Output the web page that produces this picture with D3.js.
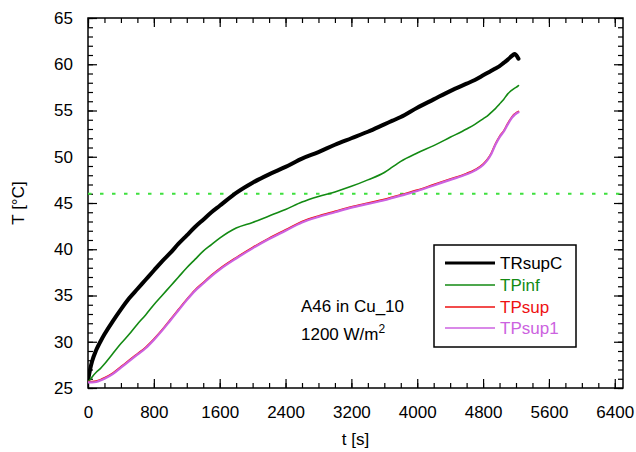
<!DOCTYPE html>
<html>
<head>
<meta charset="utf-8">
<script src="https://cdn.jsdelivr.net/npm/d3@7"></script>
<style>
  body { margin: 0; background: #fff; }
  svg { display: block; }
  text { font-family: "Liberation Sans", Arial, Helvetica, sans-serif; }
</style>
</head>
<body>
<svg id="chart" width="636" height="452"></svg>
<script>
// Time grid [s] shared by all four temperature traces
const time = [0, 25, 50, 100, 150, 200, 300, 400, 500, 600, 700, 800, 900, 1000, 1100, 1200,
  1300, 1400, 1500, 1600, 1800, 2000, 2200, 2400, 2600, 2800, 3000, 3200, 3400, 3600, 3700,
  3800, 4000, 4200, 4400, 4600, 4700, 4800, 4850, 4900, 4950, 5000, 5050, 5100, 5150, 5180,
  5200, 5230];

// Temperatures [°C]
const TRsupC = [25.8, 27.0, 27.9, 29.1, 30.0, 30.8, 32.2, 33.5, 34.7, 35.7, 36.7, 37.7, 38.7,
  39.6, 40.6, 41.5, 42.4, 43.2, 44.0, 44.7, 46.1, 47.2, 48.1, 48.9, 49.8, 50.5, 51.3, 52.0,
  52.7, 53.5, 53.9, 54.3, 55.3, 56.2, 57.1, 57.9, 58.3, 58.8, 59.05, 59.3, 59.55, 59.8, 60.15,
  60.5, 60.9, 61.1, 61.0, 60.6];

const TPinf = [25.7, 25.9, 26.2, 26.7, 27.1, 27.6, 28.7, 29.8, 30.8, 31.9, 32.9, 34.0, 35.0,
  36.0, 37.0, 38.0, 38.9, 39.8, 40.5, 41.2, 42.3, 42.9, 43.6, 44.3, 45.1, 45.7, 46.2, 46.8,
  47.5, 48.3, 48.9, 49.5, 50.4, 51.2, 52.1, 53.0, 53.5, 54.1, 54.4, 54.8, 55.2, 55.7, 56.2,
  56.8, 57.2, 57.4, 57.5, 57.7];

const TPsup = [25.7, 25.7, 25.7, 25.75, 25.9, 26.1, 26.6, 27.3, 28.0, 28.7, 29.4, 30.3, 31.3,
  32.4, 33.5, 34.6, 35.6, 36.4, 37.2, 37.9, 39.1, 40.2, 41.2, 42.1, 43.0, 43.6, 44.1, 44.6,
  45.0, 45.4, 45.65, 45.9, 46.4, 47.0, 47.6, 48.2, 48.6, 49.2, 49.7, 50.4, 51.4, 52.2, 52.8,
  53.6, 54.3, 54.6, 54.75, 54.9];

const TPsup1 = [25.6, 25.6, 25.6, 25.65, 25.8, 26.0, 26.5, 27.2, 27.9, 28.6, 29.3, 30.2, 31.2,
  32.3, 33.4, 34.5, 35.5, 36.3, 37.1, 37.8, 39.0, 40.1, 41.1, 42.0, 42.9, 43.5, 44.0, 44.5,
  44.9, 45.3, 45.55, 45.8, 46.3, 46.9, 47.5, 48.1, 48.5, 49.1, 49.6, 50.3, 51.3, 52.1, 52.7,
  53.5, 54.2, 54.5, 54.65, 54.8];

// Axis ticks
const xTicks = [0, 800, 1600, 2400, 3200, 4000, 4800, 5600, 6400];
const xMinorTicks = d3.range(0, 6401, 200);
const yTicks = [25, 30, 35, 40, 45, 50, 55, 60, 65];
const yMinorTicks = d3.range(25, 66, 1);

// Reference temperature level (dashed)
const refLevel = 46;

const seriesNames = ["TRsupC", "TPinf", "TPsup", "TPsup1"];
const seriesValues = [TRsupC, TPinf, TPsup, TPsup1];
const seriesColors = ["#000000", "#138a13", "#ee1111", "#cc62e0"];
const seriesWidths = [4, 1.6, 1.6, 2.2];
const legendWidths = [3.2, 1.4, 1.4, 1.4];

const noteLine1 = "A46 in Cu_10";
const noteLine2 = "1200 W/m";

const svg = d3.select("#chart");
const plot = { left: 88, right: 623, top: 18, bottom: 388 };

const x = d3.scaleLinear().domain([0, 6500]).range([plot.left, plot.right]);
const y = d3.scaleLinear().domain([25, 65]).range([plot.bottom, plot.top]);

const FONT = 17;

// clip region for the traces
svg.append("defs").append("clipPath").attr("id", "plotClip")
  .append("rect")
  .attr("x", plot.left).attr("y", plot.top)
  .attr("width", plot.right - plot.left).attr("height", plot.bottom - plot.top);

// ---- axes: inward ticks on all four sides ----
function styleAxis(g) {
  g.select(".domain").remove();
  g.selectAll(".tick line").attr("stroke", "#000").attr("stroke-width", 1.2);
  g.selectAll(".tick text").attr("font-size", FONT).attr("fill", "#000");
}

// bottom
svg.append("g").attr("transform", `translate(0,${plot.bottom})`)
  .call(d3.axisBottom(x).tickValues(xMinorTicks).tickFormat("").tickSize(-5))
  .call(styleAxis);
svg.append("g").attr("transform", `translate(0,${plot.bottom})`)
  .call(d3.axisBottom(x).tickValues(xTicks).tickFormat(d3.format("d")).tickSize(-9).tickPadding(17.5))
  .call(styleAxis);
// top
svg.append("g").attr("transform", `translate(0,${plot.top})`)
  .call(d3.axisTop(x).tickValues(xMinorTicks).tickFormat("").tickSize(-5))
  .call(styleAxis);
svg.append("g").attr("transform", `translate(0,${plot.top})`)
  .call(d3.axisTop(x).tickValues(xTicks).tickFormat("").tickSize(-9))
  .call(styleAxis);
// left
svg.append("g").attr("transform", `translate(${plot.left},0)`)
  .call(d3.axisLeft(y).tickValues(yMinorTicks).tickFormat("").tickSize(-5))
  .call(styleAxis);
svg.append("g").attr("transform", `translate(${plot.left},0)`)
  .call(d3.axisLeft(y).tickValues(yTicks).tickFormat(d3.format("d")).tickSize(-9).tickPadding(15))
  .call(styleAxis);
// right
svg.append("g").attr("transform", `translate(${plot.right},0)`)
  .call(d3.axisRight(y).tickValues(yMinorTicks).tickFormat("").tickSize(-5))
  .call(styleAxis);
svg.append("g").attr("transform", `translate(${plot.right},0)`)
  .call(d3.axisRight(y).tickValues(yTicks).tickFormat("").tickSize(-9))
  .call(styleAxis);

// frame
svg.append("rect")
  .attr("x", plot.left).attr("y", plot.top)
  .attr("width", plot.right - plot.left).attr("height", plot.bottom - plot.top)
  .attr("fill", "none").attr("stroke", "#000").attr("stroke-width", 1.5);

// dashed reference level
svg.append("line")
  .attr("x1", plot.left).attr("x2", plot.right)
  .attr("y1", y(refLevel)).attr("y2", y(refLevel))
  .attr("stroke", "#3ee03e").attr("stroke-width", 2)
  .attr("stroke-dasharray", "3.5,8.5");

// ---- traces ----
const line = d3.line()
  .x(d => x(d[0]))
  .y(d => y(d[1]))
  .curve(d3.curveMonotoneX);

const traces = svg.append("g").attr("clip-path", "url(#plotClip)");
seriesValues.forEach((vals, i) => {
  traces.append("path")
    .datum(time.map((t, k) => [t, vals[k]]))
    .attr("d", line)
    .attr("fill", "none")
    .attr("stroke", seriesColors[i])
    .attr("stroke-width", seriesWidths[i])
    .attr("stroke-linejoin", "round")
    .attr("stroke-linecap", "round");
});

// ---- legend ----
const legend = svg.append("g");
legend.append("rect")
  .attr("x", 434).attr("y", 245).attr("width", 142).attr("height", 102)
  .attr("fill", "#fff").attr("stroke", "#000").attr("stroke-width", 1.5);
const legendY = [263, 285, 307, 328];
seriesNames.forEach((name, i) => {
  legend.append("line")
    .attr("x1", 445).attr("x2", 495)
    .attr("y1", legendY[i]).attr("y2", legendY[i])
    .attr("stroke", seriesColors[i]).attr("stroke-width", legendWidths[i]);
  legend.append("text")
    .attr("x", 500).attr("y", legendY[i] + 6)
    .attr("font-size", FONT)
    .attr("fill", seriesColors[i])
    .text(name);
});

// ---- annotation ----
svg.append("text")
  .attr("x", 301).attr("y", 312).attr("font-size", FONT).attr("fill", "#000")
  .text(noteLine1);
const note2 = svg.append("text")
  .attr("x", 301).attr("y", 340).attr("font-size", FONT).attr("fill", "#000");
note2.append("tspan").text(noteLine2);
note2.append("tspan").attr("font-size", 12).attr("dy", -7).text("2");

// ---- axis titles ----
svg.append("text")
  .attr("x", (plot.left + plot.right) / 2).attr("y", 445)
  .attr("text-anchor", "middle").attr("font-size", FONT).attr("fill", "#000")
  .text("t [s]");
svg.append("text")
  .attr("transform", `translate(24,${(plot.top + plot.bottom) / 2}) rotate(-90)`)
  .attr("text-anchor", "middle").attr("font-size", FONT).attr("fill", "#000")
  .text("T [°C]");
</script>
</body>
</html>
